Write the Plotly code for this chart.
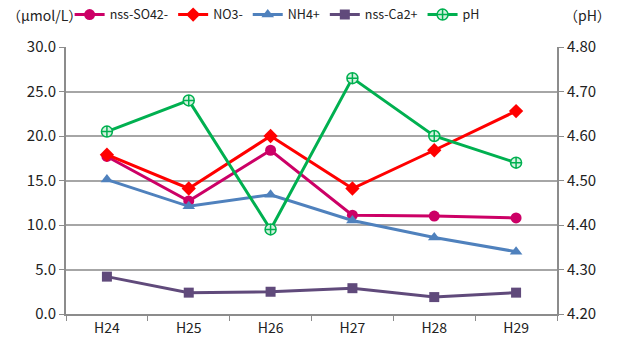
import plotly.graph_objects as go

years = ["H24", "H25", "H26", "H27", "H28", "H29"]
nss_so4 = [17.7, 12.7, 18.4, 11.1, 11.0, 10.8]
no3 = [17.9, 14.1, 20.0, 14.1, 18.4, 22.8]
nh4 = [15.1, 12.1, 13.4, 10.5, 8.6, 7.0]
nss_ca = [4.2, 2.4, 2.5, 2.9, 1.9, 2.4]
ph = [4.61, 4.68, 4.39, 4.73, 4.60, 4.54]

FONT = "Noto Sans CJK JP, sans-serif"
GRID = "#a6a6a6"
AXIS = "#8c8c8c"

fig = go.Figure()

series = [
    ("nss-SO42-", nss_so4, "#cc0066", "circle", 11),
    ("NO3-", no3, "#ff0000", "diamond", 11),
    ("NH4+", nh4, "#4f81bd", "triangle-up", 11),
    ("nss-Ca2+", nss_ca, "#604a7b", "square", 10),
]
for name, vals, color, sym, size in series:
    fig.add_trace(go.Scatter(
        x=years, y=vals, name=name, mode="lines+markers",
        line=dict(color=color, width=3),
        marker=dict(symbol=sym, size=size, color=color),
    ))

fig.add_trace(go.Scatter(
    x=years, y=ph, name="pH", mode="lines+markers", yaxis="y2",
    line=dict(color="#00b050", width=3),
    marker=dict(symbol="circle-cross", size=11, color="#d4f2e0",
                line=dict(color="#00b050", width=1.5)),
))

fig.update_layout(
    width=619, height=343,
    margin=dict(l=66, r=62, t=47, b=29, autoexpand=False),
    paper_bgcolor="white", plot_bgcolor="white",
    font=dict(family=FONT, size=13, color="#222222"),
    showlegend=True,
    legend=dict(
        orientation="h", x=0.43, xanchor="center", y=1.12, yanchor="middle",
        font=dict(size=12.5), itemwidth=30, tracegroupgap=0,
        bgcolor="rgba(0,0,0,0)",
    ),
    xaxis=dict(
        type="category", showgrid=False, showline=True, linecolor=AXIS,
        linewidth=2, ticks="outside", tickson="boundaries", ticklen=5,
        tickcolor=AXIS, tickfont=dict(size=14), range=[-0.5, 5.5],
    ),
    yaxis=dict(
        range=[0, 30], dtick=5, tickformat=".1f", showgrid=True,
        gridcolor=GRID, gridwidth=1.5, showline=True, linecolor=AXIS,
        linewidth=2, ticks="outside", ticklen=5, tickcolor=AXIS,
        zeroline=False, tickfont=dict(size=15),
    ),
    yaxis2=dict(
        range=[4.2, 4.8], dtick=0.1, tickformat=".2f", overlaying="y",
        side="right", showgrid=False, showline=True, linecolor=AXIS,
        linewidth=2, ticks="outside", ticklen=5, tickcolor=AXIS,
        zeroline=False, tickfont=dict(size=15),
    ),
    annotations=[
        dict(text="（μmol/L）", xref="paper", yref="paper", x=-0.125, y=1.12,
             xanchor="left", yanchor="middle", showarrow=False,
             font=dict(size=14)),
        dict(text="（pH）", xref="paper", yref="paper", x=1.01, y=1.12,
             xanchor="left", yanchor="middle", showarrow=False,
             font=dict(size=14)),
    ],
)

fig.write_html("out.html")
